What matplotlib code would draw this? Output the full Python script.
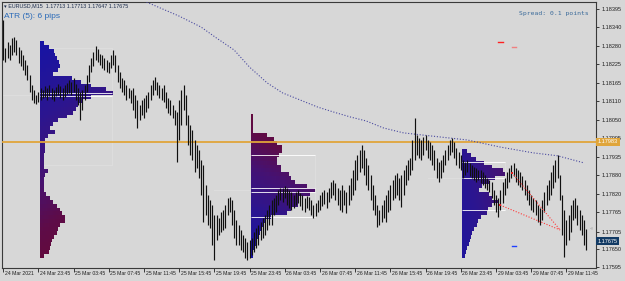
import numpy as np
import matplotlib
matplotlib.use("Agg")
import matplotlib.pyplot as plt
import matplotlib.transforms as mtransforms
from matplotlib.colors import LinearSegmentedColormap

# EURUSD M15 bars (bar 0 = 24 Mar 19:45)
highs = [
    1.18361, 1.18274, 1.18293, 1.18283, 1.18305, 1.18308, 1.18299, 1.18277, 1.18268, 1.18252,
    1.18237, 1.18221, 1.18190, 1.18159, 1.18144, 1.18128, 1.18138, 1.18150, 1.18144, 1.18156,
    1.18150, 1.18159, 1.18150, 1.18144, 1.18153, 1.18163, 1.18156, 1.18150, 1.18159, 1.18166,
    1.18175, 1.18169, 1.18181, 1.18163, 1.18150, 1.18138, 1.18144, 1.18159, 1.18190, 1.18221,
    1.18243, 1.18262, 1.18280, 1.18271, 1.18256, 1.18252, 1.18243, 1.18237, 1.18231, 1.18252,
    1.18268, 1.18252, 1.18221, 1.18200, 1.18181, 1.18175, 1.18159, 1.18150, 1.18144, 1.18150,
    1.18128, 1.18113, 1.18097, 1.18113, 1.18119, 1.18128, 1.18138, 1.18159, 1.18175, 1.18184,
    1.18169, 1.18159, 1.18150, 1.18159, 1.18138, 1.18119, 1.18113, 1.18097, 1.18082, 1.18076,
    1.18113, 1.18144, 1.18159, 1.18128, 1.18066, 1.18035, 1.18020, 1.17989, 1.17973, 1.17958,
    1.17927, 1.17911, 1.17849, 1.17818, 1.17803, 1.17787, 1.17756, 1.17756, 1.17747, 1.17766,
    1.17772, 1.17787, 1.17809, 1.17812, 1.17803, 1.17772, 1.17741, 1.17725, 1.17710, 1.17694,
    1.17685, 1.17673, 1.17679, 1.17685, 1.17704, 1.17716, 1.17725, 1.17735, 1.17747, 1.17756,
    1.17772, 1.17787, 1.17803, 1.17809, 1.17818, 1.17834, 1.17840, 1.17840, 1.17846, 1.17840,
    1.17834, 1.17828, 1.17818, 1.17828, 1.17834, 1.17825, 1.17818, 1.17809, 1.17815, 1.17812,
    1.17803, 1.17787, 1.17794, 1.17803, 1.17818, 1.17828, 1.17834, 1.17828, 1.17840, 1.17859,
    1.17865, 1.17856, 1.17840, 1.17834, 1.17849, 1.17834, 1.17828, 1.17849, 1.17871, 1.17896,
    1.17927, 1.17942, 1.17958, 1.17973, 1.17958, 1.17933, 1.17911, 1.17880, 1.17849, 1.17818,
    1.17787, 1.17772, 1.17787, 1.17803, 1.17818, 1.17834, 1.17849, 1.17865, 1.17880, 1.17887,
    1.17871, 1.17880, 1.17896, 1.17911, 1.17927, 1.17933, 1.17989, 1.18057, 1.18004, 1.17995,
    1.17989, 1.17998, 1.18004, 1.17989, 1.17983, 1.17973, 1.17958, 1.17933, 1.17921, 1.17927,
    1.17942, 1.17958, 1.17973, 1.17989, 1.17995, 1.17983, 1.17964, 1.17952, 1.17942, 1.17927,
    1.17921, 1.17927, 1.17918, 1.17911, 1.17905, 1.17902, 1.17896, 1.17896, 1.17890, 1.17880,
    1.17871, 1.17865, 1.17859, 1.17834, 1.17818, 1.17809, 1.17834, 1.17859, 1.17871, 1.17890,
    1.17902, 1.17911, 1.17918, 1.17902, 1.17896, 1.17890, 1.17877, 1.17865, 1.17849, 1.17834,
    1.17818, 1.17809, 1.17803, 1.17787, 1.17778, 1.17803, 1.17828, 1.17849, 1.17865, 1.17890,
    1.17911, 1.17927, 1.17942, 1.17880, 1.17818, 1.17772, 1.17741, 1.17756, 1.17787, 1.17803,
    1.17809, 1.17787, 1.17772, 1.17756, 1.17741, 1.17713,
]
lows = [
    1.18237, 1.18231, 1.18243, 1.18237, 1.18252, 1.18262, 1.18252, 1.18228, 1.18218, 1.18206,
    1.18190, 1.18175, 1.18138, 1.18113, 1.18104, 1.18101, 1.18107, 1.18113, 1.18119, 1.18122,
    1.18113, 1.18125, 1.18116, 1.18110, 1.18125, 1.18128, 1.18119, 1.18113, 1.18122, 1.18132,
    1.18135, 1.18128, 1.18138, 1.18113, 1.18097, 1.18051, 1.18082, 1.18113, 1.18138, 1.18169,
    1.18200, 1.18218, 1.18237, 1.18231, 1.18221, 1.18212, 1.18206, 1.18200, 1.18197, 1.18212,
    1.18221, 1.18200, 1.18169, 1.18150, 1.18138, 1.18128, 1.18113, 1.18119, 1.18104, 1.18082,
    1.18057, 1.18026, 1.18051, 1.18066, 1.18057, 1.18076, 1.18088, 1.18113, 1.18128, 1.18144,
    1.18128, 1.18119, 1.18113, 1.18107, 1.18088, 1.18073, 1.18066, 1.18057, 1.18035, 1.17921,
    1.17989, 1.18035, 1.18082, 1.18035, 1.17973, 1.17942, 1.17927, 1.17890, 1.17902, 1.17871,
    1.17818, 1.17735, 1.17756, 1.17725, 1.17716, 1.17663, 1.17617, 1.17679, 1.17694, 1.17704,
    1.17710, 1.17716, 1.17756, 1.17766, 1.17725, 1.17685, 1.17663, 1.17663, 1.17648, 1.17642,
    1.17623, 1.17617, 1.17623, 1.17632, 1.17642, 1.17654, 1.17663, 1.17679, 1.17685, 1.17694,
    1.17710, 1.17725, 1.17725, 1.17756, 1.17766, 1.17787, 1.17803, 1.17797, 1.17809, 1.17787,
    1.17778, 1.17772, 1.17778, 1.17787, 1.17794, 1.17784, 1.17772, 1.17766, 1.17778, 1.17772,
    1.17756, 1.17747, 1.17753, 1.17766, 1.17772, 1.17784, 1.17791, 1.17778, 1.17797, 1.17809,
    1.17818, 1.17803, 1.17787, 1.17772, 1.17766, 1.17787, 1.17763, 1.17787, 1.17803, 1.17818,
    1.17834, 1.17865, 1.17890, 1.17902, 1.17880, 1.17849, 1.17834, 1.17803, 1.17772, 1.17756,
    1.17719, 1.17725, 1.17735, 1.17747, 1.17735, 1.17766, 1.17772, 1.17803, 1.17809, 1.17818,
    1.17803, 1.17781, 1.17818, 1.17849, 1.17865, 1.17880, 1.17896, 1.17927, 1.17942, 1.17933,
    1.17927, 1.17942, 1.17958, 1.17933, 1.17927, 1.17911, 1.17896, 1.17871, 1.17859, 1.17871,
    1.17890, 1.17911, 1.17927, 1.17942, 1.17952, 1.17933, 1.17911, 1.17902, 1.17896, 1.17871,
    1.17880, 1.17890, 1.17877, 1.17871, 1.17865, 1.17859, 1.17865, 1.17856, 1.17849, 1.17840,
    1.17834, 1.17828, 1.17809, 1.17787, 1.17766, 1.17750, 1.17772, 1.17794, 1.17818, 1.17840,
    1.17859, 1.17871, 1.17877, 1.17859, 1.17849, 1.17843, 1.17834, 1.17818, 1.17803, 1.17787,
    1.17772, 1.17766, 1.17756, 1.17735, 1.17725, 1.17741, 1.17766, 1.17787, 1.17803, 1.17818,
    1.17840, 1.17859, 1.17871, 1.17803, 1.17694, 1.17626, 1.17663, 1.17679, 1.17704, 1.17741,
    1.17747, 1.17725, 1.17710, 1.17694, 1.17663, 1.17647,
]

date_labels = [
    "24 Mar 2021", "24 Mar 23:45", "25 Mar 03:45", "25 Mar 07:45", "25 Mar 11:45",
    "25 Mar 15:45", "25 Mar 19:45", "25 Mar 23:45", "26 Mar 03:45", "26 Mar 07:45",
    "26 Mar 11:45", "26 Mar 15:45", "26 Mar 19:45", "26 Mar 23:45", "29 Mar 03:45",
    "29 Mar 07:45", "29 Mar 11:45",
]
price_ticks = [1.18395, 1.18340, 1.18280, 1.18225, 1.18165, 1.18110, 1.18050, 1.17995,
               1.17935, 1.17880, 1.17820, 1.17765, 1.17705, 1.17650, 1.17595]

# dotted moving average
ma_bars = [64, 80, 90, 97, 105, 112, 120, 127, 135, 143, 150, 158, 165, 173, 182,
           195, 211, 226, 241, 252, 264]
ma_vals = [1.18420, 1.18373, 1.18339, 1.18305, 1.18268, 1.18215, 1.18166, 1.18135,
           1.18113, 1.18091, 1.18076, 1.18060, 1.18048, 1.18026, 1.18011, 1.18001,
           1.17989, 1.17967, 1.17949, 1.17940, 1.17918]

# daily volume profiles (25, 26, 29 Mar), rows every 12 points from the top price
prof_start = [17, 113, 209]
prof_top = [1.18290, 1.18060, 1.17952]
prof_vol1 = [4, 9, 14, 15, 17, 19, 20, 18, 13, 32, 40, 50, 65, 72, 50, 42, 38, 35, 33, 27,
             18, 13, 10, 15, 8, 5, 5, 5, 5, 4, 4, 4, 4, 8, 5, 4, 4, 4, 4, 6,
             10, 13, 17, 20, 22, 25, 25, 20, 18, 17, 14, 12, 11, 10, 9, 4]
prof_vol2 = [2, 2, 2, 2, 2, 16, 23, 26, 31, 31, 28, 26, 26, 30, 30, 38, 40, 43, 56, 63,
             58, 48, 46, 46, 40, 36, 20, 15, 13, 11, 9, 8, 6, 5, 3, 2, 2]
prof_vol3 = [5, 9, 14, 22, 30, 40, 42, 32, 27, 20, 17, 27, 30, 35, 29, 26, 24, 19, 16, 15,
             12, 10, 9, 8, 7, 5, 4, 3]
# value area boxes (bar from, bar to, low, high) and POC / VA levels
va_boxes = [(17, 49.5, 1.17911, 1.18274), (113, 141.8, 1.17750, 1.17942),
            (209, 228, 1.17772, 1.17921)]
va_levels = [[1.18135, 1.18125], [1.17942, 1.17840, 1.17828, 1.17750],
             [1.17921, 1.17871, 1.17772]]
poc_ext = [(0, 1.18128), (96, 1.17834), (193, 1.17871)]

hline_price = 1.17983
last_price = 1.17675

bg = "#d7d7d7"
W, H = 625, 281
fig = plt.figure(figsize=(W / 100, H / 100), dpi=100)
fig.patch.set_facecolor(bg)
ax = fig.add_axes([2 / W, 13 / H, 594 / W, 266 / H])
ax.set_facecolor(bg)

# volume profiles as gradient rows
cmap = LinearSegmentedColormap.from_list(
    "vp", [(0.0, "#1414a8"), (0.35, "#2c1690"), (0.6, "#461272"),
           (0.8, "#5e0c48"), (1.0, "#660a38")])
step = 0.00012
vol_to_bars = 1 / 2.2
dx = 0.2
grads = [(0.05, 0.85, 0.2, "down"), (0.05, 0.85, 0.2, "up"), (0.18, 0.15, 0.3, "up")]
for start, top, vols, (a, b, c, d) in zip(prof_start, prof_top,
                                         [prof_vol1, prof_vol2, prof_vol3], grads):
    w = np.array(vols) * vol_to_bars
    n = len(w)
    ncol = int(np.ceil(w.max() / dx))
    cx = (np.arange(ncol) + 0.5) * dx
    img = np.zeros((n, ncol, 4))
    for k in range(n):
        rf = k / (n - 1)
        if d == "up":
            rf = 1 - rf
        rgba = cmap(np.clip(a + b * rf + c * cx / w.max(), 0, 1))
        mask = cx < w[k]
        img[k, mask] = rgba[mask]
    ax.imshow(img, extent=[start - 0.2, start - 0.2 + ncol * dx,
                           top - (n - 0.5) * step, top + 0.5 * step],
              origin="upper", aspect="auto", interpolation="nearest", zorder=2)

for (x0, x1, lo, hi), lev, (ex, ep) in zip(va_boxes, va_levels, poc_ext):
    ax.plot([x0, x1, x1, x0], [hi, hi, lo, lo], color="#dfdfdf", lw=0.6, zorder=1)
    ax.plot([ex, x0], [ep, ep], color="#dfdfdf", lw=0.6, zorder=1)
    ax.hlines(lev, x0 - 0.2, x1, color="white", lw=0.6, zorder=3)

# orange horizontal line
ax.axhline(hline_price, color="#e0a53a", lw=1.3, zorder=3)

# moving average
ax.plot(ma_bars, ma_vals, color="#4a4aa0", lw=0.8, ls=(0, (1, 1.6)), zorder=3)

# price bars
ax.vlines(np.arange(len(highs)), lows, highs, color="#101010", lw=0.85, zorder=4)

# red dotted lines and small markers on the last day
ax.plot([226, 253.2], [1.17787, 1.17710], color="#ff3a3a", lw=0.8, ls=(0, (1, 1.5)), zorder=5)
ax.plot([231.3, 253.2], [1.17887, 1.17710], color="#ff3a3a", lw=0.8, ls=(0, (1, 1.5)), zorder=5)
ax.plot([226, 231.3], [1.17787, 1.17887], "s", color="#e02020", ms=1.6, mew=0, zorder=6)
ax.plot([225, 227.3], [1.18293, 1.18293], color="#ff2020", lw=1.0, zorder=5)
ax.plot([231.3, 233], [1.18277, 1.18277], color="#f08080", lw=1.0, zorder=5)
ax.plot([231.3, 233], [1.17660, 1.17660], color="#2040ff", lw=1.0, zorder=5)

ax.set_xlim(-0.5, 269.5)
ax.set_ylim(1.175921, 1.184167)

# axes styling
for s in ax.spines.values():
    s.set_color("#3a3a3a")
    s.set_linewidth(0.8)
ax.yaxis.tick_right()
ax.set_yticks(price_ticks)
ax.set_yticklabels([f"{p:.5f}" for p in price_ticks])
ax.tick_params(axis="y", direction="out", length=2.5, width=0.6, pad=1.5,
               labelsize=4.0, colors="#202020")
ax.set_xticks(range(0, 16 * len(date_labels), 16))
ax.set_xticklabels(date_labels)
ax.tick_params(axis="x", direction="out", length=3, width=0.6, pad=-1.0,
               labelsize=3.7, colors="#202020")
offset = mtransforms.ScaledTranslation(1.2 / 72, 0, fig.dpi_scale_trans)
for lab in ax.get_xticklabels():
    lab.set_horizontalalignment("left")
    lab.set_transform(lab.get_transform() + offset)
for lab in ax.get_xticklabels() + ax.get_yticklabels():
    lab.set_fontfamily("Liberation Sans")

# price boxes on the right scale
tr = mtransforms.blended_transform_factory(ax.transAxes, ax.transData)
ax.text(1.003, hline_price, f"{hline_price:.5f}", transform=tr, fontsize=4.0,
        family="Liberation Sans", color="white", va="center", ha="left",
        clip_on=False, zorder=10,
        bbox=dict(boxstyle="square,pad=0.3", fc="#e0a53a", ec="none"))
ax.text(1.003, last_price, f"{last_price:.5f}", transform=tr, fontsize=4.0,
        family="Liberation Sans", color="white", va="center", ha="left",
        clip_on=False, zorder=10,
        bbox=dict(boxstyle="square,pad=0.3", fc="#123a64", ec="none"))
ax.text(266.5, 1.17713, "\u00ab", fontsize=4, color="#9a9a9a", va="center",
        ha="left", clip_on=False, zorder=6)

# chart texts
fig.text(4 / W, 1 - 5.5 / H, "\u25be EURUSD,M15  1.17713 1.17713 1.17647 1.17675",
         fontsize=3.9, color="#1c2c4c", va="center", ha="left",
         family=["Liberation Sans", "DejaVu Sans"])
fig.text(4 / W, 1 - 17 / H, "ATR (5): 6 pips", fontsize=6, color="#2a6ab8",
         va="center", ha="left", family="Liberation Sans")
fig.text(519 / W, 1 - 13 / H, "Spread: 0.1 points", fontsize=4.6, color="#3a6a9a",
         va="center", ha="left", family="DejaVu Sans Mono")

fig.savefig("out.png", dpi=100, facecolor=bg)
